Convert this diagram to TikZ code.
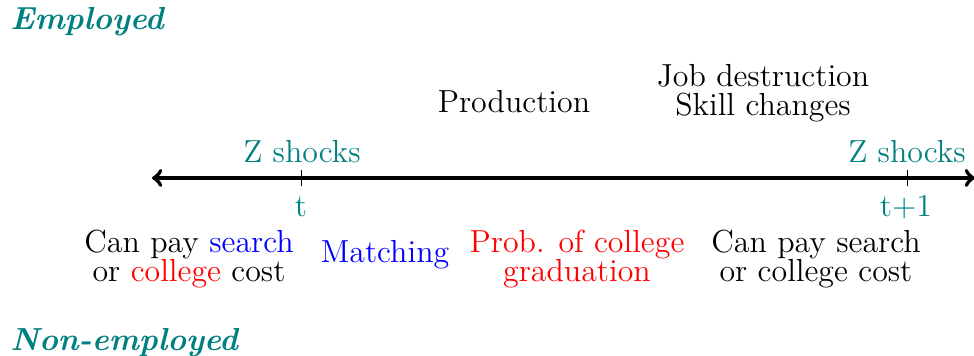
\documentclass[tikz,border=0pt]{standalone}
\begin{document}
\begin{tikzpicture}[x=0.4607pt,y=-0.4607pt,
  lbl/.style={font=\fontsize{14.7}{13.4}\selectfont, align=center, inner sep=0pt},
  state/.style={lbl, text=teal, font=\fontsize{14.7}{13.4}\selectfont\bfseries\itshape, anchor=west},
  axis/.style={line width=1.9pt, <->},
  tickmark/.style={thin, black}]
\useasboundingbox (0,0) rectangle (974,356);

% sector labels
\node[state] (emp) at (10,22) {Employed};
\node[state] (nonemp) at (10,343) {Non-employed};

% time line
\coordinate (L) at (152,178);
\coordinate (R) at (975,178);
\draw[axis] (L) -- (R);

% period marks
\coordinate (t0) at (301,178);
\coordinate (t1) at (907,178);
\coordinate (t0a) at (301,170);
\coordinate (t0b) at (301,186);
\coordinate (t1a) at (907,170);
\coordinate (t1b) at (907,186);
\draw[tickmark] (t0a) -- (t0b);
\draw[tickmark] (t1a) -- (t1b);
\node[lbl, text=teal] (lt0) at (301,207) {t};
\node[lbl, text=teal] (lt1) at (906,207) {t+1};
\node[lbl, text=teal] (z0) at (302,152) {Z shocks};
\node[lbl, text=teal] (z1) at (907,152) {Z shocks};

% events during the period
\node[lbl] (prod) at (514,102) {Production};
\node[lbl] (dest) at (763,93) {Job destruction\\Skill changes};

\node[lbl] (pay0) at (189,259) {Can pay \textcolor{blue}{search}\\or \textcolor{red}{college} cost};
\node[lbl, text=blue] (match) at (385,255) {Matching};
\node[lbl, text=red] (grad) at (577,259) {Prob. of college\\graduation};
\node[lbl] (pay1) at (816,259) {Can pay search\\or college cost};
\end{tikzpicture}
\end{document}
